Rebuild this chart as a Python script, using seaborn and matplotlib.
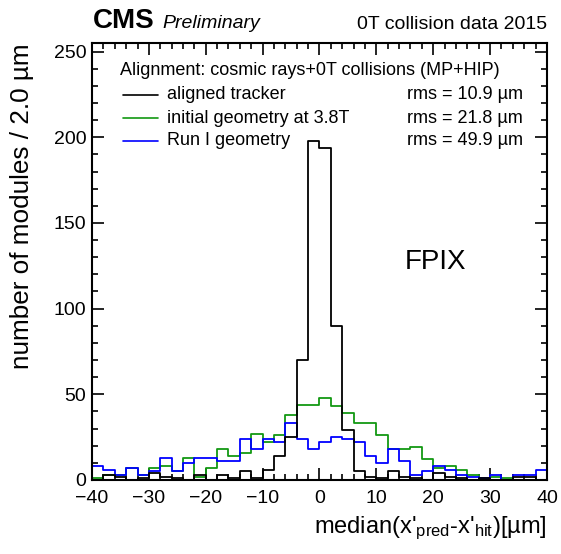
import numpy as np
import pandas as pd
import matplotlib
matplotlib.use("Agg")
import matplotlib.pyplot as plt
import seaborn as sns
from matplotlib.ticker import MultipleLocator

# 2 um bins from -40 to 40 um
bin_edges = [float(v) for v in np.arange(-40, 42, 2)]
bin_centers = np.arange(-39, 40, 2)

aligned_counts = [0, 3, 2, 0, 1, 4, 2, 1, 0, 3,
                  0, 3, 1, 5, 1, 6, 14, 25, 70, 198,
                  194, 90, 29, 5, 2, 1, 5, 2, 1, 0,
                  4, 2, 1, 0, 1, 0, 0, 2, 2, 0]
initial_counts = [1, 3, 3, 7, 3, 7, 8, 5, 13, 2,
                  7, 18, 14, 16, 27, 22, 26, 38, 44, 44,
                  48, 43, 39, 33, 33, 26, 18, 18, 19, 12,
                  7, 8, 6, 3, 1, 2, 1, 0, 0, 0]
run1_counts = [8, 6, 3, 7, 3, 5, 13, 5, 10, 13,
               13, 11, 11, 24, 18, 24, 22, 33, 24, 18,
               22, 25, 24, 22, 14, 10, 18, 11, 3, 5,
               8, 6, 3, 2, 1, 3, 0, 3, 3, 6]

series_labels = ["aligned tracker", "initial geometry at 3.8T", "Run I geometry"]
rms_labels = ["rms = 10.9 µm", "rms = 21.8 µm", "rms = 49.9 µm"]
series_colors = ["black", "#129812", "#0000ff"]
header = "Alignment: cosmic rays+0T collisions (MP+HIP)"

df = pd.DataFrame({
    "x": np.tile(bin_centers, 3).astype(float),
    "n": np.concatenate([aligned_counts, initial_counts, run1_counts]).astype(float),
    "geometry": np.repeat(series_labels, len(bin_centers)),
})

sns.set_style("ticks")
plt.rcParams["font.family"] = ["Liberation Sans", "DejaVu Sans"]
plt.rcParams["text.color"] = "black"
plt.rcParams["axes.labelcolor"] = "black"
plt.rcParams["xtick.color"] = "black"
plt.rcParams["ytick.color"] = "black"
plt.rcParams["mathtext.fontset"] = "custom"
plt.rcParams["mathtext.rm"] = "Liberation Sans"
plt.rcParams["mathtext.it"] = "Liberation Sans:italic"

fig = plt.figure(figsize=(5.61, 5.54), dpi=100)
ax = fig.add_axes([0.164, 0.1336, 0.811, 0.7888])

# draw green and blue first, black on top
for idx in [1, 2, 0]:
    sub = df[df["geometry"] == series_labels[idx]].reset_index(drop=True)
    sns.histplot(data=sub, x="x", weights="n", bins=bin_edges,
                 element="step", fill=False, color=series_colors[idx],
                 linewidth=1.3, ax=ax)

ax.set_xlim(-40, 40)
ax.set_ylim(0, 255)
ax.xaxis.set_major_locator(MultipleLocator(10))
ax.xaxis.set_minor_locator(MultipleLocator(2))
ax.yaxis.set_major_locator(MultipleLocator(50))
ax.yaxis.set_minor_locator(MultipleLocator(10))
ax.tick_params(which="both", direction="in", top=True, right=True,
               width=1.2, color="black", labelcolor="black", labelsize=14)
ax.tick_params(which="major", length=8.5)
ax.tick_params(which="minor", length=4.5)
ax.tick_params(axis="x", which="major", pad=7.5)
ax.tick_params(axis="y", which="major", pad=4)
for sp in ax.spines.values():
    sp.set_linewidth(1.5)
    sp.set_color("black")

ax.set_xlabel("median(x'$_{\\rm pred}$-x'$_{\\rm hit}$)[µm]", fontsize=17,
              loc="right", labelpad=5, color="black")
ax.set_ylabel("number of modules / 2.0 µm", fontsize=18.8, loc="top",
              labelpad=14, color="black")

# legend block
tr = ax.transAxes
ax.text(0.0615, 0.938, header, transform=tr, fontsize=13, va="center", ha="left")
row_y = [0.881, 0.828, 0.776]
for y, lab, rms, col in zip(row_y, series_labels, rms_labels, series_colors):
    ax.plot([0.068, 0.145], [y, y], transform=tr, color=col, linewidth=1.2)
    ax.text(0.165, y, lab, transform=tr, fontsize=13, va="center", ha="left")
    ax.text(0.692, y, rms, transform=tr, fontsize=13, va="center", ha="left")

ax.text(0.688, 0.499, "FPIX", transform=tr, fontsize=20, va="center", ha="left")

fig.text(0.166, 0.949, "CMS", fontsize=20, fontweight="bold", ha="left", va="baseline")
fig.text(0.289, 0.949, "Preliminary", fontsize=14, fontstyle="italic", ha="left", va="baseline")
fig.text(0.975, 0.947, "0T collision data 2015", fontsize=14, ha="right", va="baseline")

fig.savefig("out.png", dpi=100)
